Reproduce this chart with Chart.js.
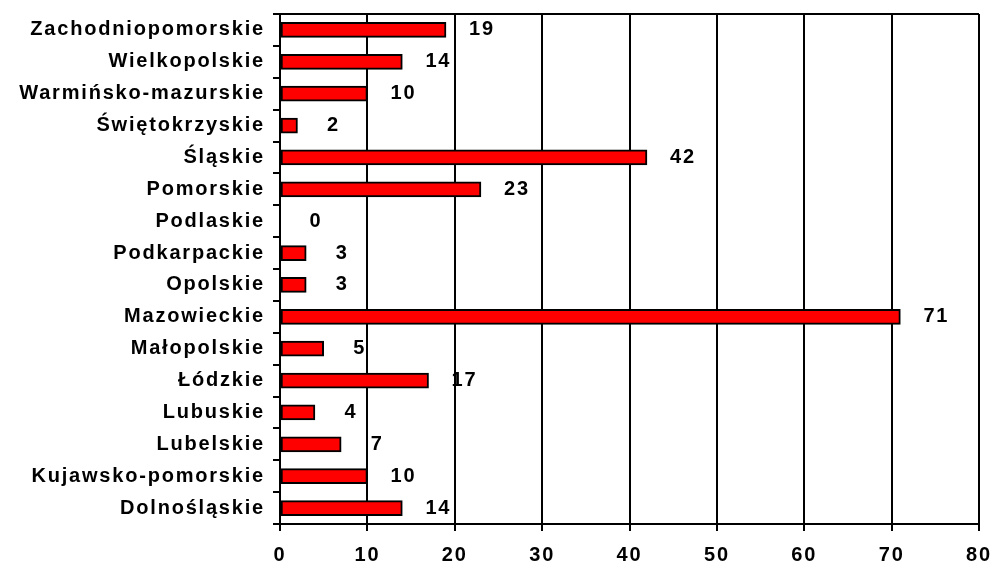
<!DOCTYPE html>
<html>
<head>
<meta charset="utf-8">
<script src="https://cdn.jsdelivr.net/npm/chart.js@4/dist/chart.umd.min.js"></script>
<style>
  html, body { margin: 0; padding: 0; background: #ffffff; }
  #wrap { width: 992px; height: 563px; }
</style>
</head>
<body>
<div id="wrap"><canvas id="chart" width="992" height="563"></canvas></div>
<script>
// Województwa (top to bottom as drawn) and their counts
const regions = [
  'Zachodniopomorskie', 'Wielkopolskie', 'Warmińsko-mazurskie', 'Świętokrzyskie',
  'Śląskie', 'Pomorskie', 'Podlaskie', 'Podkarpackie', 'Opolskie', 'Mazowieckie',
  'Małopolskie', 'Łódzkie', 'Lubuskie', 'Lubelskie', 'Kujawsko-pomorskie', 'Dolnośląskie'
];
const counts = [19, 14, 10, 2, 42, 23, 0, 3, 3, 71, 5, 17, 4, 7, 10, 14];
const axisMin = 0;
const axisMax = 80;
const axisStep = 10;

const FONT = { family: '"Liberation Sans", Arial, sans-serif', size: 20, weight: 'bold' };
const SPACING = '1.8px';

// Wide Excel-like text spacing; re-applied because a canvas resize resets the context
const spacing = {
  id: 'spacing',
  beforeLayout(chart) { chart.ctx.letterSpacing = SPACING; },
  beforeDraw(chart) { chart.ctx.letterSpacing = SPACING; }
};

// Top edge of the plot frame
const frameTop = {
  id: 'frameTop',
  afterDraw(chart) {
    const { ctx, chartArea } = chart;
    ctx.save();
    ctx.strokeStyle = '#000';
    ctx.lineWidth = 2;
    ctx.beginPath();
    ctx.moveTo(chartArea.left, chartArea.top);
    ctx.lineTo(chartArea.right, chartArea.top);
    ctx.stroke();
    ctx.restore();
  }
};

// Value printed to the right of each bar
const valueLabels = {
  id: 'valueLabels',
  afterDatasetsDraw(chart) {
    const { ctx } = chart;
    const meta = chart.getDatasetMeta(0);
    const xs = chart.scales.x;
    ctx.save();
    ctx.letterSpacing = SPACING;
    ctx.font = `${FONT.weight} ${FONT.size}px ${FONT.family}`;
    ctx.fillStyle = '#000';
    ctx.textAlign = 'center';
    ctx.textBaseline = 'middle';
    meta.data.forEach((bar, i) => {
      const v = counts[i];
      const end = xs.getPixelForValue(v);
      ctx.fillText(String(v), end + 36, bar.y);
    });
    ctx.restore();
  }
};

new Chart(document.getElementById('chart'), {
  type: 'bar',
  data: {
    labels: regions,
    datasets: [{
      data: counts,
      backgroundColor: '#FF0000',
      borderColor: '#000000',
      borderWidth: 2,
      borderSkipped: false,
      barThickness: 15,
      categoryPercentage: 1,
      barPercentage: 1
    }]
  },
  options: {
    indexAxis: 'y',
    responsive: false,
    animation: false,
    layout: { padding: { top: 14, right: 13, left: 0, bottom: 0 } },
    plugins: {
      legend: { display: false },
      tooltip: { enabled: false }
    },
    scales: {
      x: {
        min: axisMin,
        max: axisMax,
        ticks: { stepSize: axisStep, color: '#000', font: FONT, padding: 12 },
        grid: { color: '#000', lineWidth: 2, tickLength: 7, tickColor: '#000' },
        border: { color: '#000', width: 2 },
        afterFit(scale) {
          scale.height = 39;
          scale.paddingLeft = 0;
          scale.paddingRight = 0;
        }
      },
      y: {
        ticks: { color: '#000', font: FONT, padding: 8 },
        grid: { offset: true, drawOnChartArea: false, tickLength: 7, color: '#000', lineWidth: 2 },
        border: { color: '#000', width: 2 },
        afterFit(scale) {
          scale.width = 280;
          scale.paddingTop = 0;
          scale.paddingBottom = 0;
        }
      }
    }
  },
  plugins: [spacing, frameTop, valueLabels]
});
</script>
</body>
</html>
